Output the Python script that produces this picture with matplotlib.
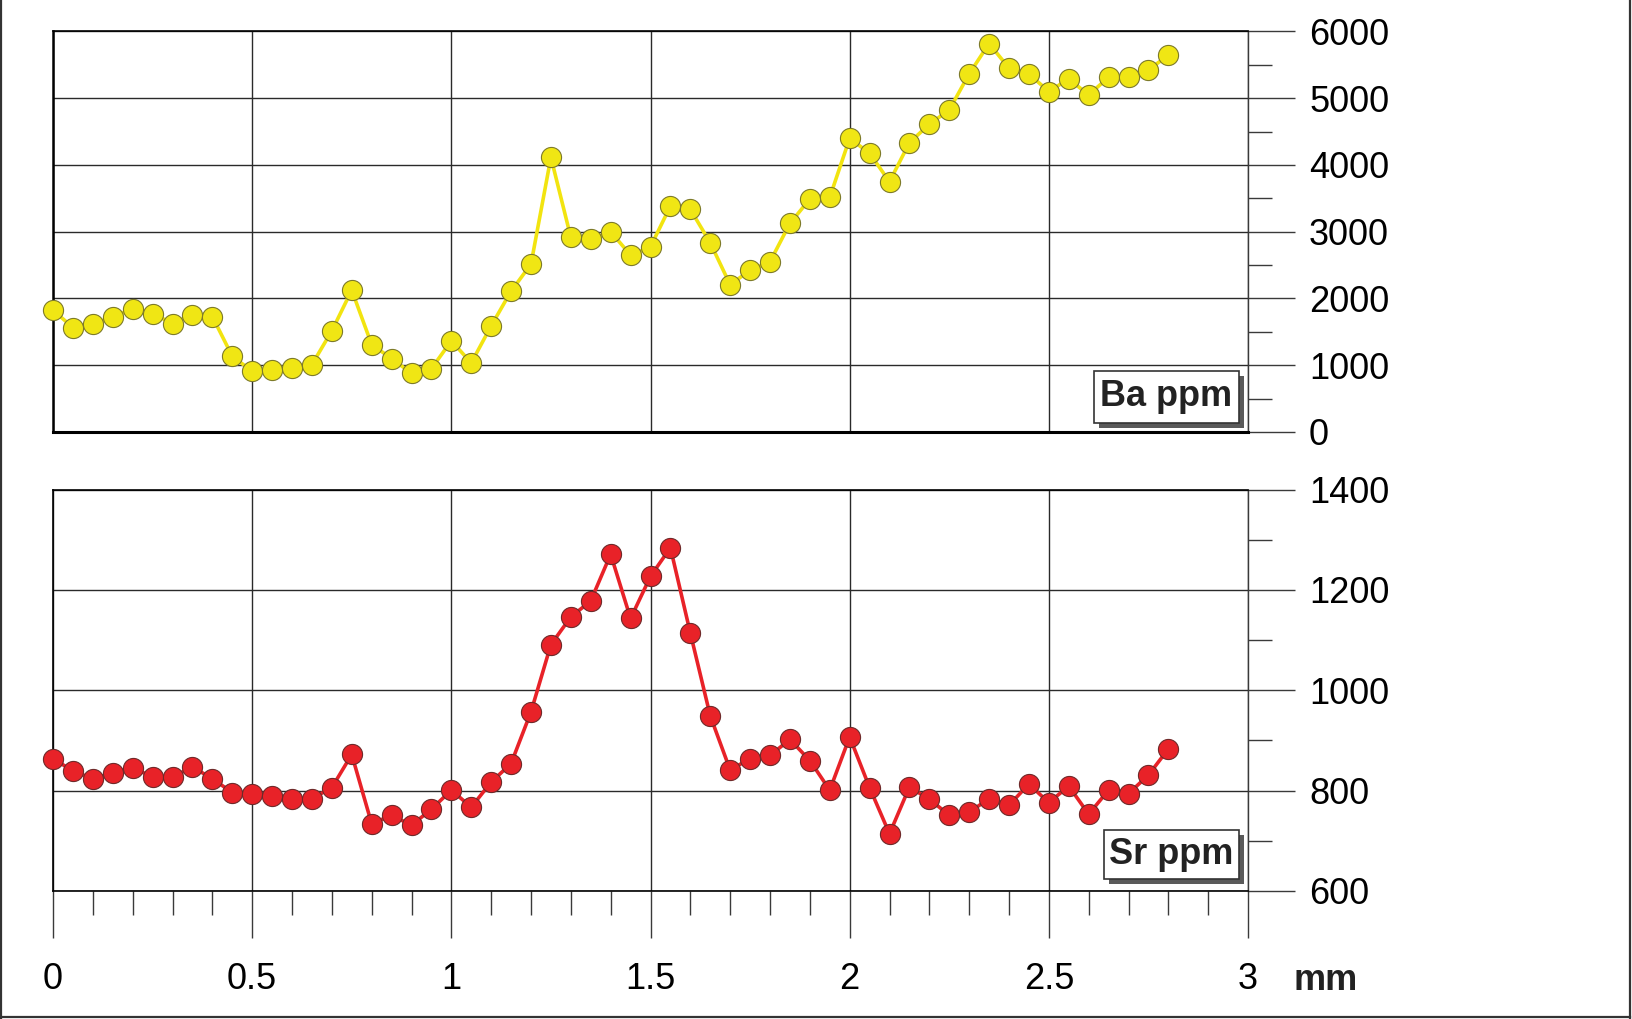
import matplotlib
matplotlib.use("Agg")
import matplotlib.pyplot as plt
from matplotlib.patches import Rectangle
from matplotlib.lines import Line2D
from matplotlib.ticker import MultipleLocator
from matplotlib.transforms import offset_copy

plt.rcParams['font.family'] = ['Liberation Sans', 'DejaVu Sans']

# distance along the traverse, mm
dist = [0.0, 0.05, 0.1, 0.15, 0.2, 0.25, 0.3, 0.35, 0.4, 0.45,
        0.5, 0.55, 0.6, 0.65, 0.7, 0.75, 0.8, 0.85, 0.9, 0.95,
        1.0, 1.05, 1.1, 1.15, 1.2, 1.25, 1.3, 1.35, 1.4, 1.45,
        1.5, 1.55, 1.6, 1.65, 1.7, 1.75, 1.8, 1.85, 1.9, 1.95,
        2.0, 2.05, 2.1, 2.15, 2.2, 2.25, 2.3, 2.35, 2.4, 2.45,
        2.5, 2.55, 2.6, 2.65, 2.7, 2.75, 2.8]

ba = [1825, 1565, 1625, 1720, 1850, 1775, 1625, 1760, 1730, 1135,
      910, 925, 965, 1010, 1515, 2125, 1310, 1100, 880, 950,
      1365, 1035, 1590, 2110, 2515, 4115, 2915, 2885, 3000, 2650,
      2775, 3385, 3335, 2835, 2205, 2425, 2550, 3125, 3490, 3515,
      4400, 4175, 3750, 4335, 4610, 4825, 5365, 5820, 5450, 5365,
      5100, 5290, 5050, 5315, 5315, 5425, 5645]

sr = [864, 839, 824, 835, 846, 827, 827, 847, 824, 796,
      793, 789, 784, 784, 806, 872, 734, 751, 731, 763,
      801, 767, 817, 854, 957, 1091, 1146, 1178, 1271, 1143,
      1227, 1284, 1114, 949, 841, 864, 870, 902, 860, 801,
      907, 806, 714, 807, 783, 751, 757, 784, 771, 813,
      776, 809, 753, 801, 794, 831, 883]

W, H = 1632, 1019
fig = plt.figure(figsize=(W / 100, H / 100), dpi=100)

ax1 = fig.add_axes([53 / W, 1 - 432 / H, 1195 / W, 400.5 / H])
ax2 = fig.add_axes([53 / W, 1 - 891 / H, 1195 / W, 401.5 / H])

grid_c = '#2a2a2a'
tick_c = '#3a3a3a'

def style(ax, ymin, ymax, ymaj, ymin_step, show_x):
    ax.set_xlim(0, 3)
    ax.set_ylim(ymin, ymax)
    ax.xaxis.set_major_locator(MultipleLocator(0.5))
    ax.xaxis.set_minor_locator(MultipleLocator(0.1))
    ax.yaxis.set_major_locator(MultipleLocator(ymaj))
    ax.yaxis.set_minor_locator(MultipleLocator(ymin_step))
    ax.grid(True, which='major', color=grid_c, lw=1.0)
    ax.set_axisbelow(True)
    ax.yaxis.tick_right()
    ax.tick_params(axis='y', which='major', direction='out', length=34, width=1.0,
                   color=tick_c, pad=10, labelsize=26)
    ax.tick_params(axis='y', which='minor', direction='out', length=17, width=1.0,
                   color=tick_c)
    if show_x:
        ax.tick_params(axis='x', which='major', direction='out', length=34, width=1.0,
                       color=tick_c, pad=17, labelsize=26)
        ax.tick_params(axis='x', which='minor', direction='out', length=17, width=1.0,
                       color=tick_c)
        ax.set_xticks([0, 0.5, 1, 1.5, 2, 2.5, 3])
        ax.set_xticklabels(['0', '0.5', '1', '1.5', '2', '2.5', '3'])
    else:
        ax.tick_params(axis='x', which='both', length=0, labelbottom=False)
    ax.spines['right'].set_color(tick_c)
    ax.spines['right'].set_linewidth(1.0)
    for s in ['top', 'left', 'bottom']:
        ax.spines[s].set_color('black')
        ax.spines[s].set_linewidth(1.2)

style(ax1, 0, 6000, 1000, 500, False)
style(ax2, 600, 1400, 200, 100, True)
ax1.spines['bottom'].set_linewidth(2.2)
ax1.spines['left'].set_linewidth(1.8)

ax1.plot(dist, ba, '-', color='#f2e410', lw=2.6, zorder=3)
ax1.plot(dist, ba, 'o', ms=14.5, mfc='#f0e614', mec='#7d7a2a', mew=0.8, zorder=4,
         clip_on=False)

ax2.plot(dist, sr, '-', color='#e82228', lw=2.6, zorder=3)
ax2.plot(dist, sr, 'o', ms=14.5, mfc='#e82228', mec='#6e2a2a', mew=0.8, zorder=4,
         clip_on=False)

def label_box(ax, x0, x1, y0, y1, txt):
    sh = offset_copy(ax.transData, fig=fig, x=5, y=-5, units='dots')
    ax.add_patch(Rectangle((x0, y0), x1 - x0, y1 - y0, transform=sh,
                           fc='#5a5a5a', ec='none', zorder=5, clip_on=False))
    ax.add_patch(Rectangle((x0, y0), x1 - x0, y1 - y0, fc='white',
                           ec='#333333', lw=1.2, zorder=6, clip_on=False))
    ax.text((x0 + x1) / 2, (y0 + y1) / 2, txt, ha='center', va='center',
            fontsize=26, fontweight='bold', color='#222222', zorder=7)

label_box(ax1, 2.613, 2.977, 135, 915, 'Ba ppm')
label_box(ax2, 2.638, 2.977, 624, 722, 'Sr ppm')

fig.text(1293 / W, 1 - 980 / H, 'mm', ha='left', va='center', fontsize=26,
         fontweight='bold', color='#222222')

# border round the figure
for xs, ys in [([1 / W, 1 / W], [0, 1]),
               ([1630 / W, 1630 / W], [0, 1]),
               ([1 / W, 1630 / W], [2 / H, 2 / H])]:
    fig.add_artist(Line2D(xs, ys, transform=fig.transFigure, color='#333333', lw=1.6))

fig.savefig('out.png', dpi=100)
